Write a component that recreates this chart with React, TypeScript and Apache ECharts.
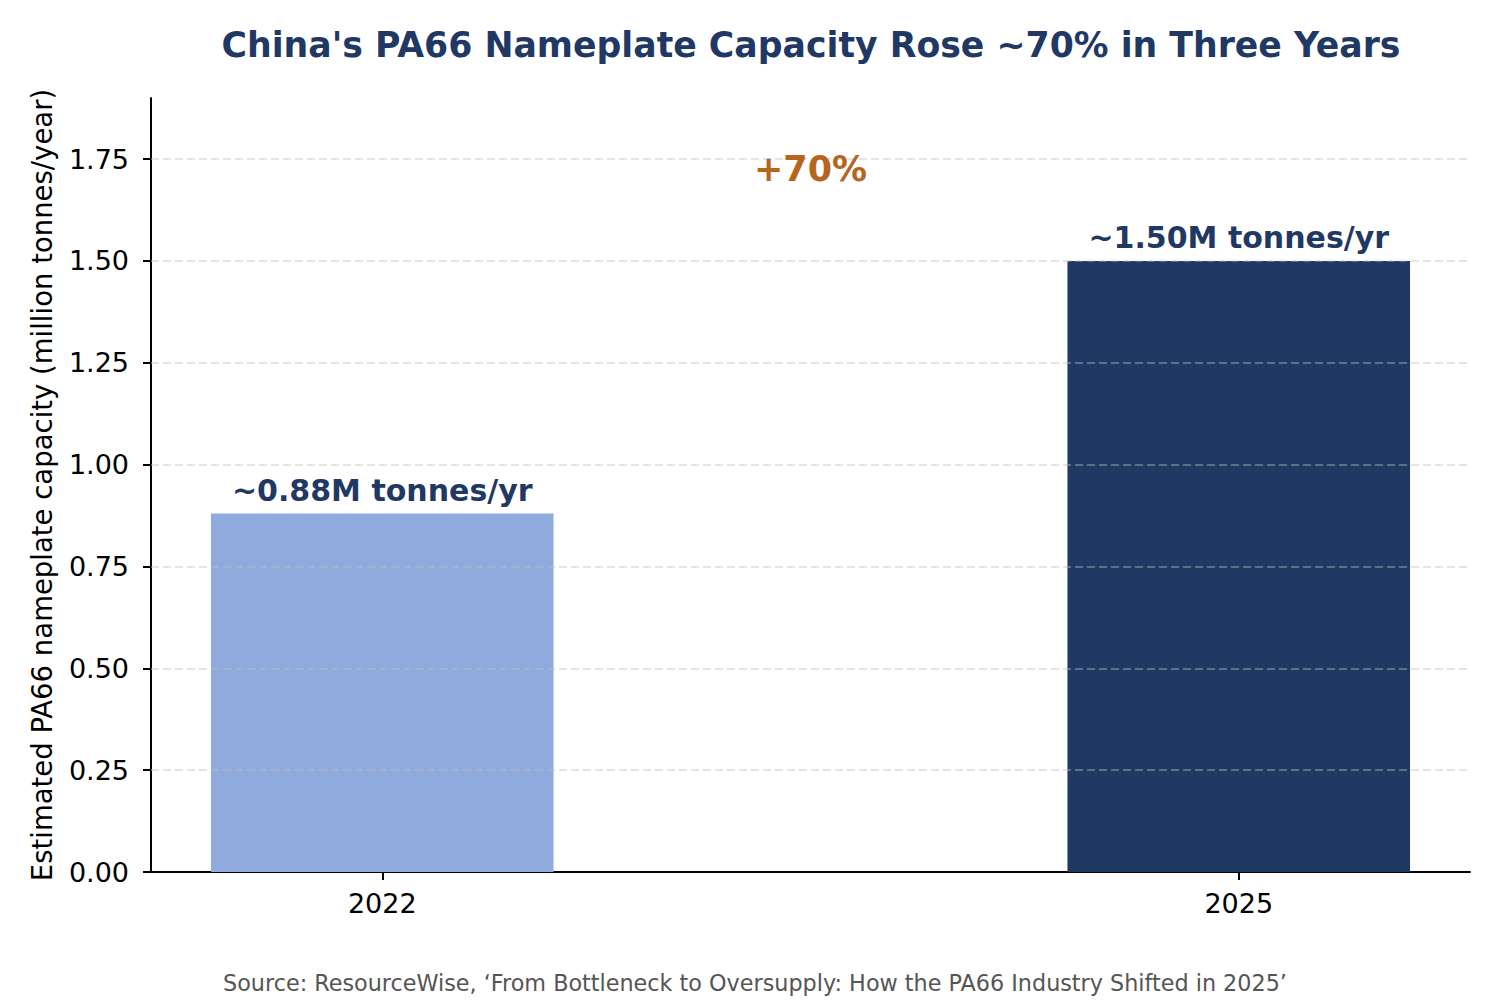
import React, { useEffect, useRef } from "react";
import * as echarts from "echarts";

// ---- data ----
const years = ["2022", "2025"];
const yearPositions = [0, 1];
const capacity = [0.88, 1.5];
const barLabels = ["~0.88M tonnes/yr", "~1.50M tonnes/yr"];
const barColors = ["#8faadc", "#1f3864"];
const yTicks = [0, 0.25, 0.5, 0.75, 1.0, 1.25, 1.5, 1.75];
const gridLines = [0.25, 0.5, 0.75, 1.0, 1.25, 1.5, 1.75];
const annotationPos = [0.5, 1.725];
const annotationText = "+70%";

const TITLE = "China's PA66 Nameplate Capacity Rose ~70% in Three Years";
const Y_NAME = "Estimated PA66 nameplate capacity (million tonnes/year)";
const SOURCE =
  "Source: ResourceWise, \u2018From Bottleneck to Oversupply: How the PA66 Industry Shifted in 2025\u2019";

const FONT = "DejaVu Sans";

export default function App() {
  const ref = useRef<HTMLDivElement>(null);
  useEffect(() => {
    if (!ref.current) return;
    const chart = echarts.init(ref.current, undefined, { renderer: "svg" });
    const gridLeft = 151;
    const gridRight = 30;
    const gridTop = 98;
    const gridBottom = 128;
    const xMin = -0.27;
    const xMax = 1.27;
    const plotW = 1500 - gridLeft - gridRight;
    const barWidthPx = (0.4 * plotW) / (xMax - xMin);

    const option: any = {
      animation: false,
      backgroundColor: "#ffffff",
      textStyle: { fontFamily: FONT },
      title: [
        {
          text: TITLE,
          left: 806,
          top: 22,
          textAlign: "center",
          textStyle: { fontFamily: FONT, fontSize: 34.7, fontWeight: "bold", color: "#1f3864" },
        },
        {
          text: SOURCE,
          left: 750,
          top: 967,
          textAlign: "center",
          textStyle: { fontFamily: FONT, fontSize: 22.3, fontWeight: "normal", color: "#555555" },
        },
      ],
      grid: { left: gridLeft, right: gridRight, top: gridTop, bottom: gridBottom, containLabel: false },
      xAxis: {
        type: "value",
        min: xMin,
        max: xMax,
        axisLine: { show: true, onZero: false, lineStyle: { color: "#000", width: 2 } },
        axisTick: { show: true, inside: false, customValues: yearPositions, length: 8, lineStyle: { color: "#000", width: 2 } },
        axisLabel: {
          customValues: yearPositions,
          formatter: (v: number) => years[yearPositions.indexOf(Math.round(v))] ?? "",
          fontFamily: FONT,
          fontSize: 27,
          color: "#000",
          margin: 18,
        },
        splitLine: { show: false },
      },
      yAxis: {
        type: "value",
        min: 0,
        max: 1.9,
        name: Y_NAME,
        nameLocation: "middle",
        nameGap: 95,
        nameTextStyle: { fontFamily: FONT, fontSize: 27.5, color: "#000" },
        axisLine: { show: true, onZero: false, lineStyle: { color: "#000", width: 2 } },
        axisTick: { show: true, inside: false, customValues: yTicks, length: 8, lineStyle: { color: "#000", width: 2 } },
        axisLabel: {
          customValues: yTicks,
          formatter: (v: number) => v.toFixed(2),
          fontFamily: FONT,
          fontSize: 27,
          color: "#000",
          margin: 22,
        },
        splitLine: { show: false },
      },
      series: [
        {
          type: "bar",
          barWidth: barWidthPx,
          z: 2,
          data: capacity.map((v, i) => ({
            value: [yearPositions[i], v],
            itemStyle: { color: barColors[i] },
            label: {
              show: true,
              position: "top",
              distance: 8,
              formatter: barLabels[i],
              fontFamily: FONT,
              fontSize: 30,
              fontWeight: "bold",
              color: "#1f3864",
            },
          })),
        },
        {
          type: "line",
          data: [],
          z: 5,
          silent: true,
          markLine: {
            silent: true,
            symbol: "none",
            label: { show: false },
            lineStyle: { color: "rgba(190,190,190,0.55)", type: [8, 4], width: 1.6 },
            data: gridLines.map((g) => ({ yAxis: g })),
          },
        },
        {
          type: "scatter",
          symbolSize: 0,
          z: 6,
          silent: true,
          itemStyle: { opacity: 1 },
          data: [annotationPos],
          label: {
            show: true,
            position: "inside",
            opacity: 1,
            formatter: annotationText,
            fontFamily: FONT,
            fontSize: 35,
            fontWeight: "bold",
            color: "#b5651d",
          },
        },
      ],
    };
    chart.setOption(option);
    return () => chart.dispose();
  }, []);
  return (
    <div
      ref={ref}
      style={{ position: "fixed", left: 0, top: 0, width: 1500, height: 1000, background: "#fff" }}
    />
  );
}
